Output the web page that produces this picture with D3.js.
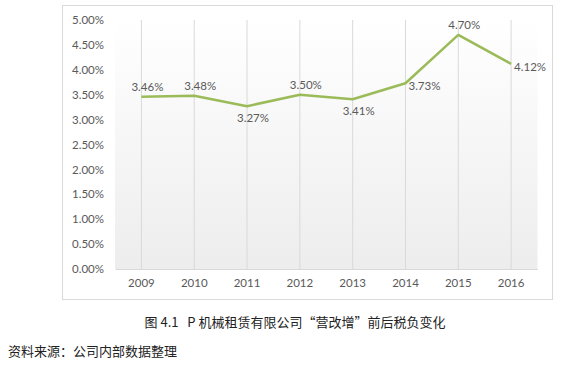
<!DOCTYPE html>
<html>
<head>
<meta charset="utf-8">
<script src="https://cdn.jsdelivr.net/npm/d3@7"></script>
<style>
body { margin: 0; background: #fff; }
svg text { font-family: Lato, "Open Sans", sans-serif; }
</style>
</head>
<body>
<script>
// data
var years = ["2009", "2010", "2011", "2012", "2013", "2014", "2015", "2016"];
var taxRate = [3.46, 3.48, 3.27, 3.50, 3.41, 3.73, 4.70, 4.12];
var labelPos = ["top", "top", "bottom", "top", "bottom", "right", "top", "right"];
var yTicks = [0, 0.5, 1, 1.5, 2, 2.5, 3, 3.5, 4, 4.5, 5];

var width = 571, height = 369;
var svg = d3.select("body").append("svg")
	.attr("width", width)
	.attr("height", height);

//outer frame
svg.append("rect")
	.attr("x", 62.5).attr("y", 5.5)
	.attr("width", 490).attr("height", 294)
	.style("fill", "#fff")
	.style("stroke", "#d9d9d9")
	.style("stroke-width", 1);

var x = d3.scaleBand().domain(years).range([115, 537.5]);
var y = d3.scaleLinear().domain([0, 5]).range([269, 20]);

//plot background gradient
var grad = svg.append("defs").append("linearGradient")
	.attr("id", "bg").attr("x1", 0).attr("y1", 0).attr("x2", 0).attr("y2", 1);
grad.append("stop").attr("offset", "0%").attr("stop-color", "#ffffff");
grad.append("stop").attr("offset", "100%").attr("stop-color", "#ededed");

svg.append("rect")
	.attr("x", 115).attr("y", y(5))
	.attr("width", 422.5).attr("height", y(0) - y(5))
	.style("fill", "url(#bg)");

//vertical grid lines at categories
svg.append("g").selectAll("line")
	.data(years)
	.enter().append("line")
	.attr("x1", function (d) { return x(d) + x.bandwidth() / 2; })
	.attr("x2", function (d) { return x(d) + x.bandwidth() / 2; })
	.attr("y1", y(5)).attr("y2", y(0))
	.style("stroke", "#d9d9d9")
	.style("stroke-width", 1);

//x axis
var xAxis = svg.append("g")
	.attr("transform", "translate(0," + y(0) + ")")
	.call(d3.axisBottom(x).tickSize(0).tickPadding(10));
xAxis.select(".domain").style("stroke", "#d9d9d9");
xAxis.selectAll("text")
	.style("font-size", "11.5px")
	.style("fill", "#595959");

//y axis
var yAxis = svg.append("g")
	.attr("transform", "translate(104,0)")
	.call(d3.axisLeft(y).tickValues(yTicks).tickSize(0).tickPadding(0)
		.tickFormat(function (d) { return d.toFixed(2) + "%"; }));
yAxis.select(".domain").remove();
yAxis.selectAll("text")
	.style("font-size", "11.5px")
	.style("fill", "#595959");

//line
var line = d3.line()
	.x(function (d, i) { return x(years[i]) + x.bandwidth() / 2; })
	.y(function (d) { return y(d); });

svg.append("path")
	.datum(taxRate)
	.attr("d", line)
	.style("fill", "none")
	.style("stroke", "#9bbb59")
	.style("stroke-width", 2.5)
	.style("stroke-linejoin", "round");

//data labels
svg.append("g").selectAll("text")
	.data(taxRate)
	.enter().append("text")
	.attr("x", function (d, i) {
		var cx = x(years[i]) + x.bandwidth() / 2;
		if (labelPos[i] == "right") return cx + 3;
		return cx + 6;
	})
	.attr("y", function (d, i) {
		var cy = y(d);
		if (labelPos[i] == "top") return cy - 6;
		if (labelPos[i] == "bottom") return cy + 16;
		return cy + 7;
	})
	.attr("text-anchor", function (d, i) { return labelPos[i] == "right" ? "start" : "middle"; })
	.style("font-size", "11.5px")
	.style("fill", "#595959")
	.text(function (d) { return d.toFixed(2) + "%"; });

//caption
svg.append("text")
	.attr("x", 295).attr("y", 327)
	.attr("text-anchor", "middle")
	.style("white-space", "pre")
	.style("font-family", "'Noto Sans CJK SC'")
	.style("font-size", "13px")
	.style("fill", "#222")
	.text("图 4.1   P 机械租赁有限公司“营改增”前后税负变化");

svg.append("text")
	.attr("x", 8).attr("y", 356)
	.style("font-family", "'Noto Sans CJK SC'")
	.style("font-size", "13px")
	.style("fill", "#222")
	.text("资料来源：公司内部数据整理");
</script>
</body>
</html>
